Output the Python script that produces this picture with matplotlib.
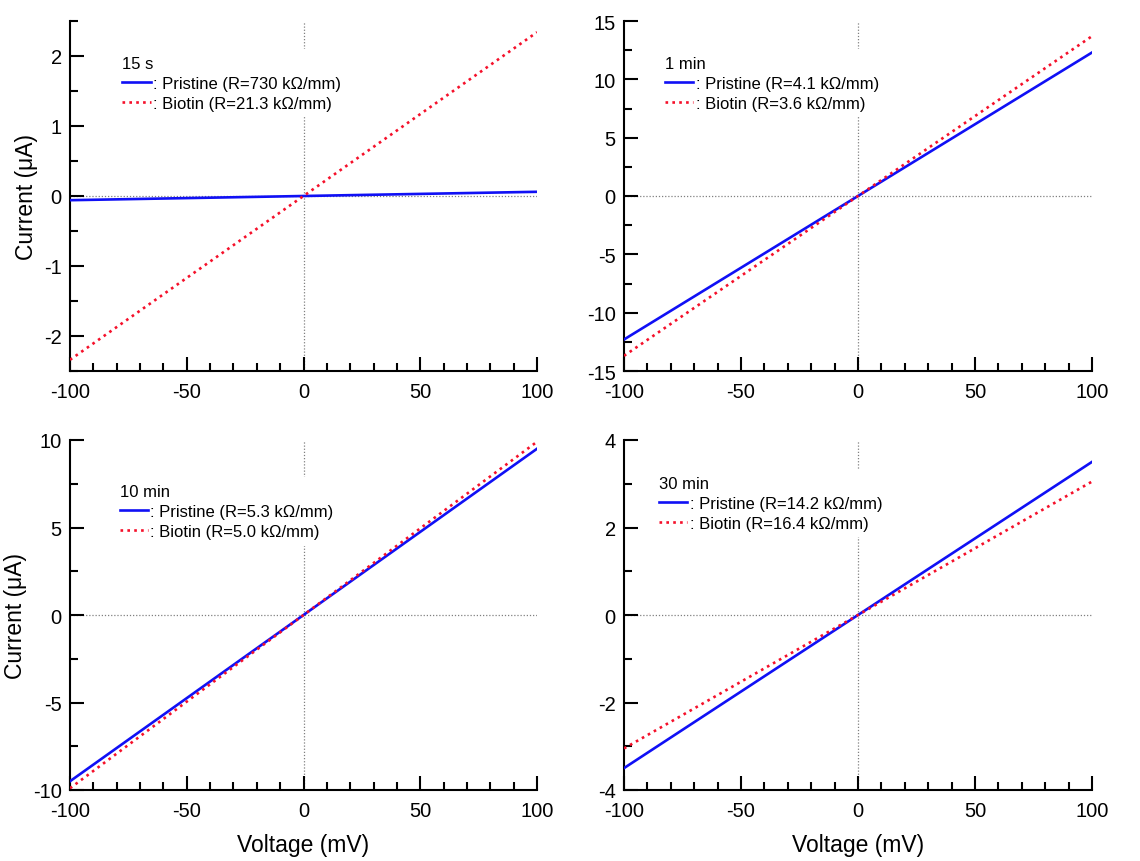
import matplotlib
matplotlib.use("Agg")
import matplotlib.pyplot as plt
from matplotlib.ticker import MultipleLocator

plt.rcParams['font.family'] = ['Liberation Sans', 'DejaVu Sans']
plt.rcParams['axes.unicode_minus'] = False

voltage = [-100, 100]

titles = ["15 s", "1 min", "10 min", "30 min"]
r_pristine = ["730", "4.1", "5.3", "14.2"]
r_biotin = ["21.3", "3.6", "5.0", "16.4"]

pristine = [[-0.06, 0.06], [-12.3, 12.3], [-9.5, 9.5], [-3.5, 3.5]]
biotin = [[-2.34, 2.34], [-13.7, 13.7], [-9.9, 9.9], [-3.05, 3.05]]

ylims = [(-2.5, 2.5), (-15, 15), (-10, 10), (-4, 4)]
ymajor = [1, 5, 5, 2]
yminor = [0.5, 2.5, 2.5, 1]

fig = plt.figure(figsize=(11.4, 8.62), dpi=100)

# left, bottom, width, height in figure fraction
boxes = [
    [70 / 1140, 1 - 372 / 862, 467 / 1140, 350 / 862],
    [624 / 1140, 1 - 372 / 862, 468 / 1140, 350 / 862],
    [70 / 1140, 1 - 791 / 862, 467 / 1140, 350 / 862],
    [624 / 1140, 1 - 791 / 862, 468 / 1140, 350 / 862],
]
legend_pos = [(0.098, 0.92), (0.073, 0.92), (0.092, 0.893), (0.06, 0.917)]

for i in range(4):
    ax = fig.add_axes(boxes[i])
    ax.axhline(0, color="gray", lw=0.9, ls=(0, (1, 1.5)), zorder=1)
    ax.axvline(0, color="gray", lw=0.9, ls=(0, (1, 1.5)), zorder=1)
    ax.plot(voltage, pristine[i], color="#1010f5", lw=1.9,
            label=": Pristine (R=" + r_pristine[i] + " k\u03a9/mm)", zorder=3)
    ax.plot(voltage, biotin[i], color="#f5102a", lw=1.9, ls=(0, (1, 1.6)),
            label=": Biotin (R=" + r_biotin[i] + " k\u03a9/mm)", zorder=3)

    ax.set_xlim(-100, 100)
    ax.set_ylim(*ylims[i])
    ax.xaxis.set_major_locator(MultipleLocator(50))
    ax.xaxis.set_minor_locator(MultipleLocator(10))
    ax.yaxis.set_major_locator(MultipleLocator(ymajor[i]))
    ax.yaxis.set_minor_locator(MultipleLocator(yminor[i]))
    ax.tick_params(which="major", direction="in", length=10, width=1.5,
                   labelsize=14.5)
    ax.tick_params(axis="x", which="major", pad=8)
    ax.tick_params(axis="y", which="major", pad=6)
    ax.tick_params(which="minor", direction="in", length=5.5, width=1.5)
    ax.spines["top"].set_visible(False)
    ax.spines["right"].set_visible(False)
    ax.spines["left"].set_linewidth(1.5)
    ax.spines["bottom"].set_linewidth(1.5)

    if i % 2 == 0:
        ax.set_ylabel("Current (\u03bcA)", fontsize=16.5, labelpad=4)
    if i >= 2:
        ax.set_xlabel("Voltage (mV)", fontsize=16.5, labelpad=9)

    leg = ax.legend(title=titles[i], loc="upper left", bbox_to_anchor=legend_pos[i],
                    fontsize=12, title_fontsize=12, alignment="left",
                    handlelength=1.7, handletextpad=0.15, labelspacing=0.3,
                    frameon=True, framealpha=1, facecolor="white",
                    edgecolor="none", borderpad=0.4, borderaxespad=0,
                    fancybox=False)
    leg.set_zorder(5)

plt.savefig("out.png", dpi=100)
